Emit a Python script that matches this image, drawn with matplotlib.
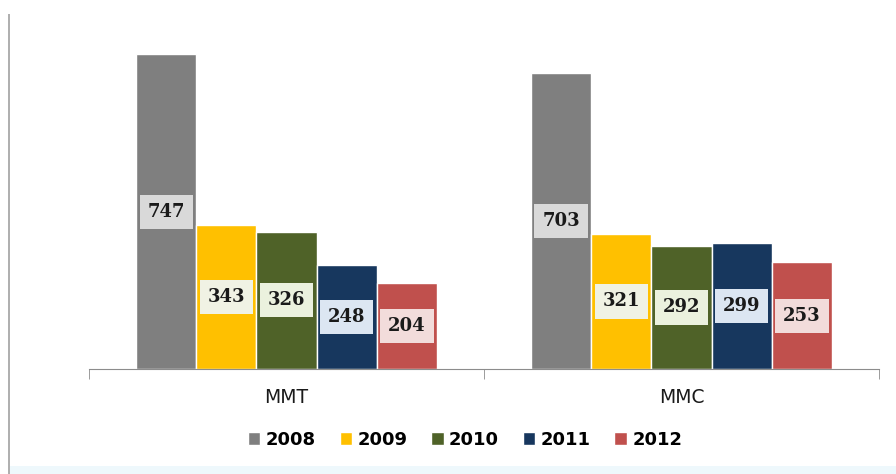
import numpy as np
import matplotlib.pyplot as plt
from matplotlib.patches import Rectangle

categories = ["MMT", "MMC"]
years = ["2008", "2009", "2010", "2011", "2012"]
values = {
    "2008": [747, 703],
    "2009": [343, 321],
    "2010": [326, 292],
    "2011": [248, 299],
    "2012": [204, 253],
}
colors = ["#7f7f7f", "#ffc000", "#4f6228", "#17375e", "#c0504d"]
label_bg = ["#d9d9d9", "#f0f2e4", "#ebf1de", "#dce6f2", "#f2dcdb"]

fig = plt.figure(figsize=(8.96, 4.74), dpi=100)
ax = fig.add_axes([89 / 896, 105 / 474, 790 / 896, 337 / 474])

x = np.arange(len(categories))
w = 0.152
for i, yr in enumerate(years):
    pos = x + (i - 2) * w
    bars = ax.bar(pos, values[yr], width=w, color=colors[i],
                  edgecolor="white", linewidth=1, label=yr, zorder=2)
    for b, v in zip(bars, values[yr]):
        ax.text(b.get_x() + b.get_width() / 2, v / 2, str(v),
                ha="center", va="center", fontsize=13, family="DejaVu Serif",
                fontweight="bold", color="#1a1a1a", zorder=3,
                bbox=dict(boxstyle="square,pad=0.45", fc=label_bg[i], ec="none"))

ax.set_xlim(-0.5, 1.5)
ax.set_ylim(0, 800)
for s in ["left", "top", "right"]:
    ax.spines[s].set_visible(False)
ax.spines["bottom"].set_color("#8c8c8c")
ax.set_yticks([])
ax.set_xticks(x)
ax.set_xticklabels(categories, fontsize=13.5, color="#1a1a1a")
ax.tick_params(axis="x", which="major", length=0, pad=14)
ax.set_xticks([-0.5, 0.5, 1.5], minor=True)
ax.tick_params(axis="x", which="minor", length=7, color="#8c8c8c")

fig.legend(loc="center", bbox_to_anchor=(465 / 896, 1 - 440 / 474), ncol=5,
           frameon=False, prop={"weight": "bold", "size": 13},
           handlelength=0.7, handleheight=0.7, handletextpad=0.3,
           columnspacing=1.3)

# left border line and pale strip at bottom
fig.add_artist(Rectangle((8 / 896, 0), 2 / 896, 1 - 14 / 474,
                         transform=fig.transFigure, color="#b0b0b0", lw=0))
fig.add_artist(Rectangle((10 / 896, 0), 1 - 10 / 896, 8 / 474,
                         transform=fig.transFigure, color="#eef8fc", lw=0))

fig.savefig("out.png", dpi=100)
